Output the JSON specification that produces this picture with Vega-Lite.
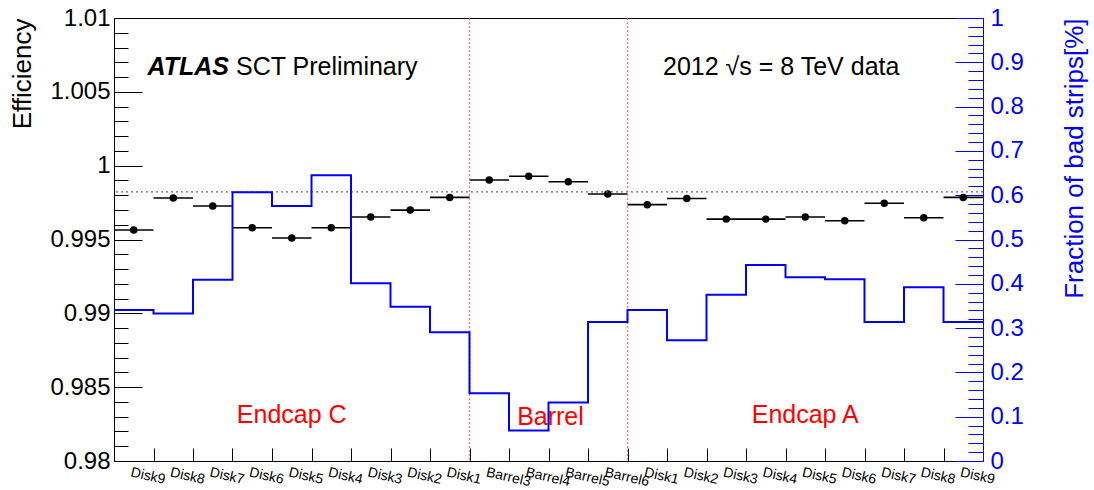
{
  "$schema": "https://vega.github.io/schema/vega-lite/v6.json",
  "width": 869,
  "height": 443,
  "autosize": "none",
  "padding": {"left": 114, "top": 18, "right": 111, "bottom": 29},
  "background": "white",
  "config": {
    "font": "Liberation Sans",
    "view": {"stroke": "black", "strokeWidth": 1},
    "axis": {"grid": false, "domainWidth": 1, "tickWidth": 1}
  },
  "datasets": {
    "bins": [
      {"i": 0, "region": "Endcap C", "name": "Disk9", "eff": 0.99564, "frac": 0.341},
      {"i": 1, "region": "Endcap C", "name": "Disk8", "eff": 0.99781, "frac": 0.333},
      {"i": 2, "region": "Endcap C", "name": "Disk7", "eff": 0.99727, "frac": 0.409},
      {"i": 3, "region": "Endcap C", "name": "Disk6", "eff": 0.99580, "frac": 0.6065},
      {"i": 4, "region": "Endcap C", "name": "Disk5", "eff": 0.99510, "frac": 0.5756},
      {"i": 5, "region": "Endcap C", "name": "Disk4", "eff": 0.99580, "frac": 0.645},
      {"i": 6, "region": "Endcap C", "name": "Disk3", "eff": 0.99652, "frac": 0.401},
      {"i": 7, "region": "Endcap C", "name": "Disk2", "eff": 0.99699, "frac": 0.348},
      {"i": 8, "region": "Endcap C", "name": "Disk1", "eff": 0.99785, "frac": 0.2905},
      {"i": 9, "region": "Barrel", "name": "Barrel3", "eff": 0.99903, "frac": 0.153},
      {"i": 10, "region": "Barrel", "name": "Barrel4", "eff": 0.99928, "frac": 0.069},
      {"i": 11, "region": "Barrel", "name": "Barrel5", "eff": 0.99891, "frac": 0.132},
      {"i": 12, "region": "Barrel", "name": "Barrel6", "eff": 0.99808, "frac": 0.314},
      {"i": 13, "region": "Endcap A", "name": "Disk1", "eff": 0.99736, "frac": 0.341},
      {"i": 14, "region": "Endcap A", "name": "Disk2", "eff": 0.99778, "frac": 0.2724},
      {"i": 15, "region": "Endcap A", "name": "Disk3", "eff": 0.99638, "frac": 0.3755},
      {"i": 16, "region": "Endcap A", "name": "Disk4", "eff": 0.99638, "frac": 0.4424},
      {"i": 17, "region": "Endcap A", "name": "Disk5", "eff": 0.99652, "frac": 0.4146},
      {"i": 18, "region": "Endcap A", "name": "Disk6", "eff": 0.99627, "frac": 0.410},
      {"i": 19, "region": "Endcap A", "name": "Disk7", "eff": 0.99745, "frac": 0.3138},
      {"i": 20, "region": "Endcap A", "name": "Disk8", "eff": 0.99647, "frac": 0.392},
      {"i": 21, "region": "Endcap A", "name": "Disk9", "eff": 0.99785, "frac": 0.3138}
    ],
    "notes": [
      {"text": "ATLAS", "x": 0.85, "eff": 1.00614, "kind": "atlas"},
      {"text": "SCT Preliminary", "x": 3.09, "eff": 1.00614, "kind": "plain"},
      {"text": "2012  √s = 8 TeV data", "x": 13.9, "eff": 1.00614, "kind": "plain"},
      {"text": "Endcap C", "x": 4.5, "eff": 0.98255, "kind": "region"},
      {"text": "Barrel", "x": 11.05, "eff": 0.98244, "kind": "region"},
      {"text": "Endcap A", "x": 17.5, "eff": 0.98259, "kind": "region"}
    ],
    "boundaries": [{"b": 9}, {"b": 13}],
    "mean": [{"eff": 0.99823}]
  },
  "layer": [
    {
      "encoding": {
        "y": {
          "field": "eff", "type": "quantitative",
          "scale": {"domain": [0.98, 1.01], "nice": false, "zero": false},
          "axis": {
            "values": [0.98,0.981,0.982,0.983,0.984,0.985,0.986,0.987,0.988,0.989,0.99,0.991,0.992,0.993,0.994,0.995,0.996,0.997,0.998,0.999,1,1.001,1.002,1.003,1.004,1.005,1.006,1.007,1.008,1.009,1.01],
            "tickSize": {"condition": {"test": "abs(datum.value*200 - round(datum.value*200)) < 0.001", "value": -28}, "value": -14},
            "tickColor": "black", "domainColor": "black",
            "labelExpr": "abs(datum.value*200 - round(datum.value*200)) < 0.001 ? format(datum.value, '~g') : ''",
            "labelFontSize": 24, "labelColor": "black", "labelPadding": 32,
            "labelOverlap": false, "labelBound": false, "labelFlush": false,
            "title": "Efficiency", "titleFontSize": 26, "titleFontWeight": "normal", "titleColor": "black",
            "titleAngle": 270, "titleAlign": "right", "titleBaseline": "middle", "titleX": -92, "titleY": 0,
            "grid": false
          }
        }
      },
      "layer": [
        {
          "data": {"name": "bins"},
          "transform": [{"bin": {"step": 1, "extent": [0, 22]}, "field": "i", "as": ["lo", "hi"]}],
          "mark": {"type": "rule", "color": "black", "strokeWidth": 1.6},
          "encoding": {
            "x": {
              "field": "lo", "type": "quantitative", "title": null,
              "scale": {"domain": [0, 22], "nice": false, "zero": false},
              "axis": {
                "values": [0,1,2,3,4,5,6,7,8,9,10,11,12,13,14,15,16,17,18,19,20,21,22],
                "tickSize": -13, "tickColor": "black", "domainColor": "black",
                "labelExpr": "['Disk9','Disk8','Disk7','Disk6','Disk5','Disk4','Disk3','Disk2','Disk1','Barrel3','Barrel4','Barrel5','Barrel6','Disk1','Disk2','Disk3','Disk4','Disk5','Disk6','Disk7','Disk8','Disk9'][datum.value] || ''",
                "labelAngle": 13, "labelAlign": "left", "labelBaseline": "top",
                "labelOffset": 18, "labelPadding": 17, "labelFontSize": 14, "labelColor": "black",
                "labelOverlap": false, "labelBound": false, "labelFlush": false, "grid": false
              }
            },
            "x2": {"field": "hi"}
          }
        },
        {
          "data": {"name": "bins"},
          "mark": {"type": "point", "filled": true, "color": "black", "size": 56, "opacity": 1},
          "encoding": {
            "x": {"field": "i", "type": "quantitative", "bin": {"step": 1, "extent": [0, 22]}, "title": null}
          }
        },
        {
          "data": {"name": "mean"},
          "mark": {"type": "rule", "color": "#666666", "strokeDash": [2, 3], "strokeWidth": 1.2},
          "encoding": {}
        },
        {
          "data": {"name": "notes"},
          "transform": [{"filter": "datum.kind == 'atlas'"}],
          "mark": {"type": "text", "align": "left", "baseline": "alphabetic", "fontSize": 25, "fontWeight": "bold", "fontStyle": "italic", "color": "black"},
          "encoding": {
            "x": {"field": "x", "type": "quantitative", "title": null},
            "text": {"field": "text"}
          }
        },
        {
          "data": {"name": "notes"},
          "transform": [{"filter": "datum.kind == 'plain'"}],
          "mark": {"type": "text", "align": "left", "baseline": "alphabetic", "fontSize": 25, "color": "black"},
          "encoding": {
            "x": {"field": "x", "type": "quantitative", "title": null},
            "text": {"field": "text"}
          }
        },
        {
          "data": {"name": "notes"},
          "transform": [{"filter": "datum.kind == 'region'"}],
          "mark": {"type": "text", "align": "center", "baseline": "alphabetic", "fontSize": 25, "color": "#ff0000"},
          "encoding": {
            "x": {"field": "x", "type": "quantitative", "title": null},
            "text": {"field": "text"}
          }
        }
      ]
    },
    {
      "data": {"name": "boundaries"},
      "mark": {"type": "rule", "color": "#ff6060", "strokeDash": [2, 2], "strokeWidth": 1.4, "opacity": 0.8},
      "encoding": {"x": {"field": "b", "type": "quantitative", "title": null}}
    },
    {
      "data": {"name": "bins"},
      "transform": [
        {"bin": {"step": 1, "extent": [0, 22]}, "field": "i", "as": ["lo", "hi"]},
        {"fold": ["lo", "hi"], "as": ["edge", "xe"]}
      ],
      "mark": {"type": "line", "color": "#0000ff", "strokeWidth": 2, "strokeJoin": "miter", "strokeCap": "butt"},
      "encoding": {
        "x": {"field": "xe", "type": "quantitative", "title": null},
        "y": {
          "field": "frac", "type": "quantitative",
          "scale": {"domain": [0, 1], "nice": false, "zero": false},
          "axis": {
            "orient": "right",
            "values": [0,0.02,0.04,0.06,0.08,0.1,0.12,0.14,0.16,0.18,0.2,0.22,0.24,0.26,0.28,0.3,0.32,0.34,0.36,0.38,0.4,0.42,0.44,0.46,0.48,0.5,0.52,0.54,0.56,0.58,0.6,0.62,0.64,0.66,0.68,0.7,0.72,0.74,0.76,0.78,0.8,0.82,0.84,0.86,0.88,0.9,0.92,0.94,0.96,0.98,1],
            "tickSize": {"condition": {"test": "abs(datum.value*10 - round(datum.value*10)) < 0.001", "value": -28}, "value": -15},
            "tickColor": "#0000ff", "domainColor": "#0000ff",
            "labelExpr": "abs(datum.value*10 - round(datum.value*10)) < 0.001 ? format(datum.value, '~g') : ''",
            "labelFontSize": 24, "labelColor": "#0000ff", "labelPadding": 35,
            "labelOverlap": false, "labelBound": false, "labelFlush": false,
            "title": "Fraction of bad strips[%]", "titleFontSize": 26, "titleFontWeight": "normal", "titleColor": "#0000ff",
            "titleAngle": 270, "titleAlign": "right", "titleBaseline": "middle", "titleX": 91, "titleY": 0,
            "grid": false
          }
        },
        "order": [{"field": "i", "sort": "ascending"}, {"field": "edge", "sort": "descending"}]
      }
    }
  ],
  "resolve": {"scale": {"y": "independent"}}
}
